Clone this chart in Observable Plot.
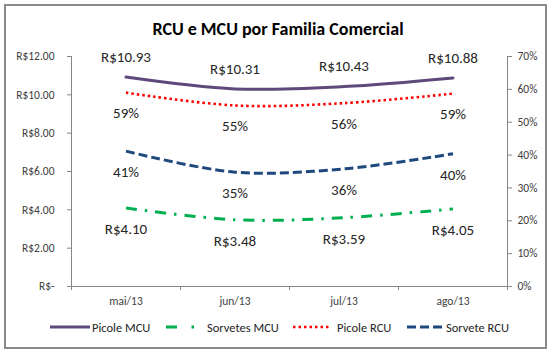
<!DOCTYPE html>
<html>
<head>
<meta charset="utf-8">
<script src="https://cdn.jsdelivr.net/npm/d3@7"></script>
<script src="https://cdn.jsdelivr.net/npm/@observablehq/plot@0.6"></script>
<style>
  html, body { margin: 0; padding: 0; background: #fff; }
  #page { position: relative; width: 556px; height: 354px; overflow: hidden; font-family: Carlito, Calibri, Lato, sans-serif; }
  #frame { position: absolute; left: 4px; top: 4px; width: 543px; height: 345px; box-sizing: border-box; border: 2px solid #8a8a8a; }
  #title { position: absolute; left: 0; width: 556px; top: 18px; text-align: center; font-weight: bold; font-size: 18px; color: #000; line-height: 22px; }
  #chart { position: absolute; left: 0; top: 40px; }
  #legend { position: absolute; top: 318px; left: 0; width: 556px; height: 18px; }
  .item { position: absolute; top: 0; display: flex; align-items: center; height: 18px; font-size: 12.5px; color: #262626; white-space: nowrap; }
  .item svg { margin-right: 2px; }
</style>
</head>
<body>
<div id="page">
  <div id="frame"></div>
  <div id="title">RCU e MCU por Familia Comercial</div>
  <div id="chart"></div>
  <div id="legend"></div>
</div>
<script>
// ---- data ----
const months = ["mai/13", "jun/13", "jul/13", "ago/13"];
const picoleMCU = [10.93, 10.31, 10.43, 10.88];     // R$
const sorvetesMCU = [4.10, 3.48, 3.59, 4.05];       // R$
const picoleRCU = [0.59, 0.551, 0.558, 0.587];      // %
const sorveteRCU = [0.412, 0.348, 0.358, 0.404];    // %
const leftTicks = [0, 2, 4, 6, 8, 10, 12];
const rightTicks = [0, 0.1, 0.2, 0.3, 0.4, 0.5, 0.6, 0.7];
const seriesNames = ["Picole MCU", "Sorvetes MCU", "Picole RCU", "Sorvete RCU"];

// ---- scales mapping (right axis 0..70% onto left axis 0..12) ----
const leftMax = 12, rightMax = 0.7;
const pctToY = p => p * leftMax / rightMax;

const styles = {
  "Picole MCU":   {stroke: "#5F497A", strokeWidth: 3, strokeDasharray: null, linecap: "round"},
  "Sorvetes MCU": {stroke: "#00B050", strokeWidth: 3, strokeDasharray: "11,8,2.5,8", linecap: "butt"},
  "Picole RCU":   {stroke: "#FF0000", strokeWidth: 2.6, strokeDasharray: "2.5,3", linecap: "butt"},
  "Sorvete RCU":  {stroke: "#1F497D", strokeWidth: 3, strokeDasharray: "9,4", linecap: "butt"}
};

const fmtR = v => v === 0 ? "R$-" : "R$" + d3.format(",.2f")(v);
const fmtP = p => Math.round(p * 100) + "%";

const rows = (vals, isPct, name, above) => vals.map((v, i) => ({
  i, name, value: v,
  y: isPct ? pctToY(v) : v,
  label: isPct ? fmtP(v) : fmtR(v),
  above
}));

const series = [
  rows(picoleMCU, false, "Picole MCU", true),
  rows(sorvetesMCU, false, "Sorvetes MCU", false),
  rows(picoleRCU, true, "Picole RCU", false),
  rows(sorveteRCU, true, "Sorvete RCU", false)
];

const xBounds = d3.range(months.length + 1).map(k => k - 0.5);
const xCenters = d3.range(months.length);

const lineMarks = series.map(s => {
  const st = styles[s[0].name];
  return Plot.line(s, {
    x: "i", y: "y", curve: "catmull-rom",
    stroke: st.stroke, strokeWidth: st.strokeWidth,
    strokeDasharray: st.strokeDasharray, strokeLinecap: st.linecap
  });
});

const labelMarks = series.map(s => Plot.text(s, {
  x: "i", y: "y", text: "label",
  dy: s[0].above ? -20 : 21,
  fontSize: 15, fill: "#262626"
}));

const chart = Plot.plot({
  width: 556, height: 275,
  marginLeft: 71, marginRight: 49, marginTop: 16, marginBottom: 29,
  x: {type: "linear", domain: [xBounds[0], xBounds[xBounds.length - 1]], label: null},
  y: {domain: [0, leftMax], label: null},
  style: {fontFamily: "Carlito, Calibri, Lato, sans-serif", fontSize: "11.5px", color: "#404040", background: "transparent", overflow: "visible"},
  marks: [
    Plot.ruleX([xBounds[0]], {stroke: "#868686"}),
    Plot.ruleX([xBounds[xBounds.length - 1]], {stroke: "#868686"}),
    Plot.ruleY([0], {stroke: "#868686"}),
    Plot.axisY(leftTicks, {anchor: "left", tickSize: 4, tickPadding: 13, tickFormat: fmtR, stroke: "#868686", label: null}),
    Plot.axisY(rightTicks.map(pctToY), {anchor: "right", tickSize: 4, tickPadding: 6, tickFormat: v => fmtP(v * rightMax / leftMax), stroke: "#868686", label: null}),
    Plot.axisX(xBounds, {anchor: "bottom", tickSize: 4, tickFormat: () => "", stroke: "#868686", label: null}),
    Plot.axisX(xCenters, {anchor: "bottom", tickSize: 0, tickPadding: 10, tickFormat: i => months[i], label: null}),
    ...lineMarks,
    ...labelMarks
  ]
});
document.getElementById("chart").appendChild(chart);

// ---- legend ----
const legendLeft = [50, 166, 293, 407];
const sampleW = [40, 39, 37, 37];
const legend = document.getElementById("legend");
seriesNames.forEach((name, k) => {
  const st = styles[name];
  const item = document.createElement("div");
  item.className = "item";
  item.style.left = legendLeft[k] + "px";
  const w = sampleW[k];
  const dash = name === "Sorvetes MCU" ? "11,14.5,2.5,14.5" : (st.strokeDasharray || "none");
  item.innerHTML = `<svg width="${w}" height="18"><line x1="0" x2="${w}" y1="9" y2="9" stroke="${st.stroke}" stroke-width="${st.strokeWidth}" stroke-dasharray="${dash}" /></svg><span style="margin-left:${k === 2 ? 5 : 0}px">${name}</span>`;
  legend.appendChild(item);
});
</script>
</body>
</html>
